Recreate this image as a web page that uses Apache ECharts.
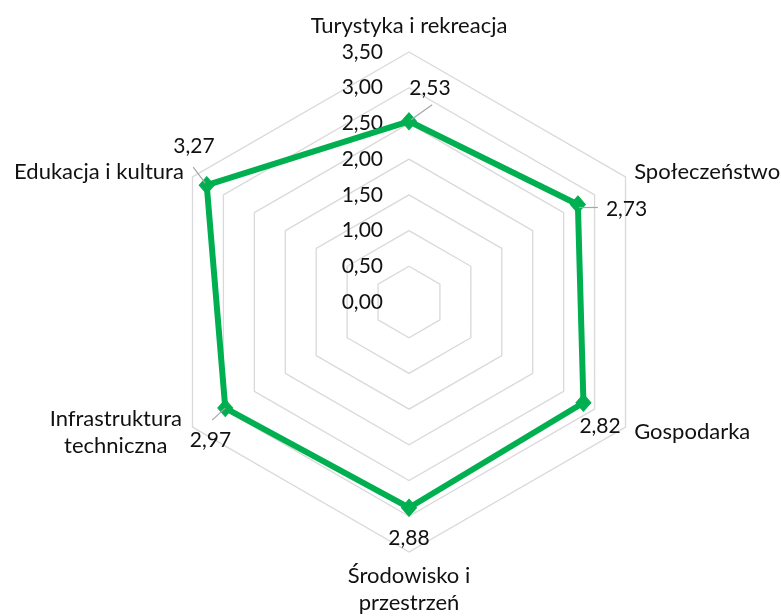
<!DOCTYPE html>
<html>
<head>
<meta charset="utf-8">
<script src="https://cdn.jsdelivr.net/npm/echarts@6/dist/echarts.min.js"></script>
<style>
  html, body { margin: 0; padding: 0; background: #ffffff; }
  #chart { width: 781px; height: 616px; }
</style>
</head>
<body>
<div id="chart"></div>
<script>
// Categories, clockwise from the top
const categories = [
  'Turystyka i rekreacja',
  'Społeczeństwo',
  'Gospodarka',
  'Środowisko i\nprzestrzeń',
  'Infrastruktura\ntechniczna',
  'Edukacja i kultura'
];
// Average scores per category (same order)
const values = [2.53, 2.73, 2.82, 2.88, 2.97, 3.27];
// Scale of the radial axis
const scaleMin = 0;
const scaleMax = 3.5;
const scaleStep = 0.5;

const GREEN = '#00B050';
const TEXT = '#111111';
const FONT = 'Lato, "Open Sans", sans-serif';
const NAME_SIZE = 22;
const NUM_SIZE = 21;
const CENTER = [409, 302];
const RADIUS = 250;

// ECharts places radar indicators counterclockwise; reorder to read clockwise
const order = [0, 5, 4, 3, 2, 1];
const radarValues = order.map(i => values[i]);
const indicators = order.map(i => ({ name: categories[i], min: scaleMin, max: scaleMax }));

const fmt = v => v.toFixed(2).replace('.', ',');

// Where each value label sits relative to its marker
const labelPlacement = [
  [21, -33.4],
  [48.7, 4.5],
  [16.6, 23.3],
  [0, 30.4],
  [-14.8, 32],
  [-12.8, -39.3]
];
// Short grey leader lines between some markers and their labels
const leaderPlacement = [
  { cat: 0, offset: [15.5, 0], len: 26, rotate: 35.5 },
  { cat: 1, offset: [10.5, 3], len: 19, rotate: 0 },
  { cat: 4, offset: [-9, 0], len: 17.7, rotate: 42.7 },
  { cat: 5, offset: [-12.5, 0], len: 20, rotate: -53.1 }
];

const hiddenItem = {
  symbol: 'circle',
  symbolSize: 1,
  itemStyle: { color: 'rgba(0,0,0,0)', borderWidth: 0 },
  lineStyle: { width: 0, opacity: 0 }
};

const labelItems = values.map((v, i) => Object.assign({}, hiddenItem, {
  value: radarValues,
  label: {
    show: true,
    position: 'inside',
    offset: labelPlacement[i],
    color: TEXT,
    fontFamily: FONT,
    fontSize: NUM_SIZE,
    formatter: p => (p.value === v ? fmt(v) : '')
  }
}));

const leaderItems = leaderPlacement.map(d => Object.assign({}, hiddenItem, {
  value: radarValues,
  label: {
    show: true,
    position: 'inside',
    offset: d.offset,
    rotate: d.rotate,
    padding: 0,
    color: 'rgba(0,0,0,0)',
    formatter: p => (p.value === values[d.cat] ? '{l| }' : ''),
    rich: {
      l: { width: d.len, height: 1.2, lineHeight: 1.2, fontSize: 1, padding: 0, backgroundColor: '#a6a6a6' }
    }
  }
}));

function formatName(name) {
  if (name === categories[0]) return '{t|' + name + '}';
  if (name.indexOf('\n') < 0) return name;
  return name.split('\n').map(s => '{c|' + s + '}').join('\n');
}

const chart = echarts.init(document.getElementById('chart'), null, { renderer: 'canvas' });

chart.setOption({
  backgroundColor: '#ffffff',
  animation: false,
  radar: {
    center: CENTER,
    radius: RADIUS,
    startAngle: 90,
    splitNumber: Math.round((scaleMax - scaleMin) / scaleStep),
    shape: 'polygon',
    indicator: indicators,
    nameGap: 10,
    axisName: {
      color: TEXT,
      fontFamily: FONT,
      fontSize: NAME_SIZE,
      formatter: formatName,
      rich: {
        t: { fontFamily: FONT, fontSize: NAME_SIZE, color: TEXT, padding: [0, 0, 5, 0] },
        c: { fontFamily: FONT, fontSize: NAME_SIZE, color: TEXT, lineHeight: 27, width: 136, align: 'center' }
      }
    },
    axisLine: { show: false },
    axisTick: { show: false },
    axisLabel: { show: false },
    splitArea: { show: false },
    splitLine: { lineStyle: { color: '#d9d9d9', width: 1.3 } }
  },
  // Radial scale labels along the upward spoke
  grid: { left: CENTER[0], top: CENTER[1] - RADIUS, width: 10, height: RADIUS },
  xAxis: { type: 'value', show: false },
  yAxis: {
    type: 'value',
    min: scaleMin,
    max: scaleMax,
    interval: scaleStep,
    axisLine: { show: false },
    axisTick: { show: false },
    splitLine: { show: false },
    axisLabel: { margin: 26, color: TEXT, fontFamily: FONT, fontSize: NUM_SIZE, formatter: fmt }
  },
  series: [{
    type: 'radar',
    silent: true,
    emphasis: { disabled: true },
    data: [
      {
        value: radarValues,
        symbol: 'diamond',
        symbolSize: [15, 17],
        itemStyle: { color: GREEN, borderColor: GREEN, borderWidth: 1, opacity: 1 },
        lineStyle: { color: GREEN, width: 6 }
      }
    ].concat(leaderItems, labelItems)
  }]
});
</script>
</body>
</html>
